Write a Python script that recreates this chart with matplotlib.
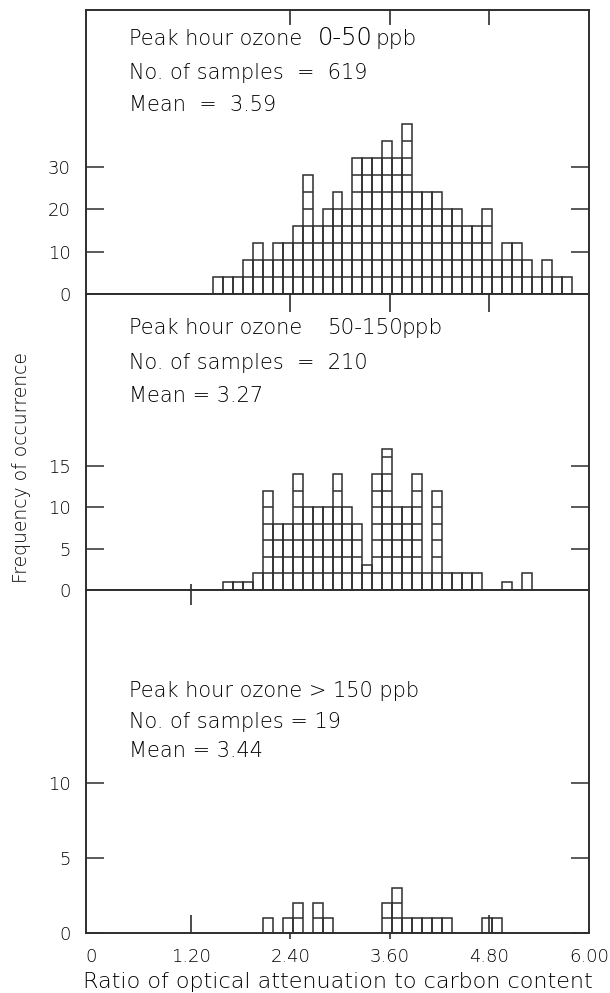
import matplotlib
matplotlib.use("Agg")
import matplotlib.pyplot as plt
import numpy as np

plt.rcParams['font.family'] = ['DejaVu Sans']

# bin layout: 0.12 wide classes
BIN_W = 0.12
BIN_START = 0.03

# low ozone (0-50 ppb): counts per class starting at class 12
low_first = 12
low_counts = [4, 4, 4, 8, 12, 8, 12, 12, 16, 28, 16, 20, 24, 20, 32, 32, 32, 36,
              32, 40, 24, 24, 24, 20, 20, 16, 16, 20, 8, 12, 12, 8, 4, 8, 4, 4]

# medium ozone (50-150 ppb), starting at class 13
mid_first = 13
mid_counts = [1, 1, 1, 2, 12, 8, 8, 14, 10, 10, 10, 14, 10, 8, 3, 14, 17, 10, 10,
              14, 2, 12, 2, 2, 2, 2, 0, 0, 1, 0, 2]

# high ozone (>150 ppb), starting at class 17
high_first = 17
high_counts = [1, 0, 1, 2, 0, 2, 1, 0, 0, 0, 0, 0, 2, 3, 1, 1, 1, 1, 1,
               0, 0, 0, 1, 1]

# heading pieces: (text, x px, size)
panel_head = [[("Peak hour ozone", 129, 15), ("0-50", 318, 17.5), ("ppb", 376, 15.5)],
              [("Peak hour ozone", 129, 15), ("50-150", 328, 15.5), ("ppb", 401, 15.5)],
              [("Peak hour ozone > 150 ppb", 129, 15)]]
panel_lines = [["No. of samples  =  619", "Mean  =  3.59"],
               ["No. of samples  =  210", "Mean = 3.27"],
               ["No. of samples = 19", "Mean = 3.44"]]
yticks = [[0, 10, 20, 30], [0, 5, 10, 15], [0, 5, 10]]
box_step = [4, 2, 1]
ylims = [67, 35.7, 22.87]
xtick_vals = [0, 1.2, 2.4, 3.6, 4.8, 6.0]
xtick_labels = ['0', '1.20', '2.40', '3.60', '4.80', '6.00']

INK = '#2e2e2e'
TXT = '#000000'
W, H = 610, 993


def draw_boxes(ax, first, counts, step):
    """histogram drawn as stacked open boxes"""
    counts = np.array(counts, dtype=float)
    lefts = BIN_START + BIN_W * (first + np.arange(len(counts)))
    keep = counts > 0
    ax.bar(lefts[keep], counts[keep], width=BIN_W, align='edge', fill=False,
           edgecolor=INK, linewidth=1.1)
    for x0, c in zip(lefts[keep], counts[keep]):
        levels = np.arange(step, c - 0.5, step)
        if len(levels):
            ax.hlines(levels, x0, x0 + BIN_W, color=INK, linewidth=1.1)


def xmarks(ax, xs, length_px, side, inward, ax_h_px):
    """short tick marks on the horizontal frame lines"""
    frac = length_px / ax_h_px
    tr = ax.get_xaxis_transform()
    for x in xs:
        if side == 'bottom':
            y0, y1 = (0, frac) if inward else (-frac, 0)
        else:
            y0, y1 = (1 - frac, 1) if inward else (1, 1 + frac)
        ax.plot([x, x], [y0, y1], color=INK, linewidth=1.2, transform=tr,
                clip_on=False, solid_capstyle='butt')


fig = plt.figure(figsize=(W / 100, H / 100), dpi=100)
left, right = 86, 589
frames = [(10, 294), (294, 590), (590, 933)]
axes = []
for top, bot in frames:
    ax = fig.add_axes([left / W, 1 - bot / H, (right - left) / W, (bot - top) / H])
    axes.append(ax)

data = [(low_first, low_counts), (mid_first, mid_counts), (high_first, high_counts)]
text_y = [[38, 72, 104], [327, 362, 395], [690, 721, 750]]


def px_text(ax, frame, xpx, ypx, s, size):
    top, bot = frame
    ax.text((xpx - left) / (right - left), (bot - ypx) / (bot - top), s,
            transform=ax.transAxes, ha='left', va='baseline', fontsize=size,
            color=TXT, fontweight='light')


for i, ax in enumerate(axes):
    top, bot = frames[i]
    draw_boxes(ax, data[i][0], data[i][1], box_step[i])
    ax.set_xlim(-0.06, 6.0)
    ax.set_ylim(0, ylims[i])
    for sp in ax.spines.values():
        sp.set_color(INK)
        sp.set_linewidth(1.4)
    ax.set_yticks(yticks[i])
    ax.set_yticklabels([str(v) for v in yticks[i]], fontweight='light')
    ax.tick_params(axis='y', direction='in', length=13, width=1.1, color=INK,
                   left=True, right=True, labelsize=13, labelcolor=TXT, pad=11)
    ax.set_xticks([])
    # baselines sit ~7 px below the line centres
    for s, xpx, size in panel_head[i]:
        px_text(ax, frames[i], xpx, text_y[i][0] + 7, s, size)
    px_text(ax, frames[i], 129, text_y[i][1] + 7, panel_lines[i][0], 15)
    px_text(ax, frames[i], 129, text_y[i][2] + 7, panel_lines[i][1], 15)

# frame tick marks
xmarks(axes[0], [2.4, 3.6, 4.8], 15, 'top', True, 284)
xmarks(axes[1], [2.4, 3.6, 4.8], 18, 'top', True, 296)
xmarks(axes[1], [1.2], 6, 'bottom', True, 296)
xmarks(axes[2], [1.2], 15, 'top', True, 343)
xmarks(axes[2], [1.2, 4.8], 18, 'bottom', True, 343)
xmarks(axes[2], [2.4, 3.6], 6, 'bottom', False, 343)

axb = axes[2]
axb.set_xticks(xtick_vals)
axb.set_xticklabels(xtick_labels, fontweight='light')
axb.tick_params(axis='x', length=0, labelsize=13, labelcolor=TXT, pad=11)
axb.set_xlabel('Ratio of optical attenuation to carbon content', fontsize=16,
               color=TXT, labelpad=4, fontweight='light')

fig.text(22 / W, 1 - 468 / H, 'Frequency of occurrence', rotation=90,
         ha='center', va='center', fontsize=13.5, color=TXT, fontweight='light')

fig.savefig('out.png', dpi=100, facecolor='white')
